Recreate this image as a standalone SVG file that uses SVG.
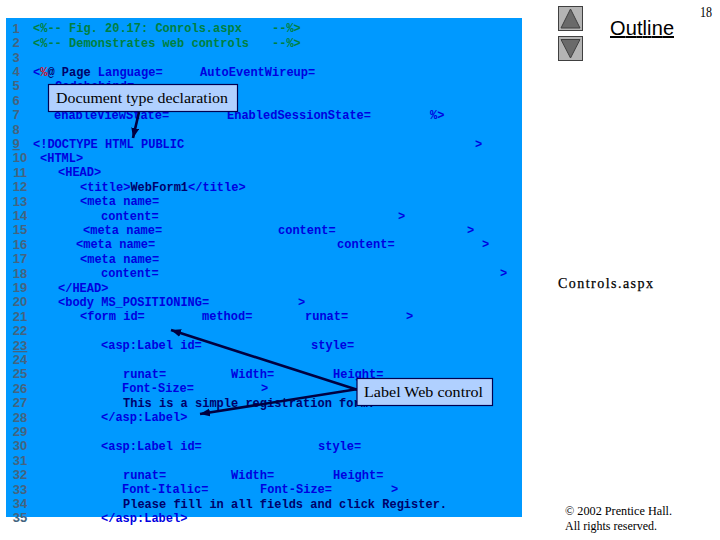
<svg xmlns="http://www.w3.org/2000/svg" width="720" height="540" viewBox="0 0 720 540">
<style>
text{white-space:pre}
.c{font:bold 12px "Liberation Mono",monospace;fill:#0000e0}
.g{fill:#008040}
.k{fill:#00006a}
.r{fill:#d01030}
.n{font:bold 13px "Liberation Sans",sans-serif;fill:#44647f;text-anchor:middle}
.s{font-family:"Liberation Serif",serif;fill:#000}
.box{fill:#b0d0ff;stroke:#000050;stroke-width:1.2}
.a{stroke:#000040;stroke-width:2.600;fill:none}
.b{fill:#b4b4b4;stroke:#404040;stroke-width:1}
.t{fill:#6a6a6a;stroke:#404040;stroke-width:1}
</style>
<defs><marker id="h" markerUnits="userSpaceOnUse" markerWidth="12" markerHeight="10" refX="10" refY="4" orient="auto"><path d="M0 0L10 4L0 8Z" fill="#000040"/></marker></defs>
<rect x="6" y="18" width="516" height="499" fill="#0099ff"/>
<g id="line-numbers">
<text class="n" x="16" y="33">1</text><text class="n" x="16" y="47">2</text><text class="n" x="16" y="62">3</text><text class="n" x="16" y="76">4</text><text class="n" x="16" y="90">5</text><text class="n" x="16" y="105">6</text><text class="n" x="16" y="119">7</text><text class="n" x="16" y="134">8</text><text class="n" x="16" y="148" text-decoration="underline">9</text><text class="n" x="20" y="162">10</text><text class="n" x="20" y="177">11</text><text class="n" x="20" y="191">12</text><text class="n" x="20" y="206">13</text><text class="n" x="20" y="220">14</text><text class="n" x="20" y="234">15</text><text class="n" x="20" y="249">16</text><text class="n" x="20" y="263">17</text><text class="n" x="20" y="278">18</text><text class="n" x="20" y="292">19</text><text class="n" x="20" y="306">20</text><text class="n" x="20" y="321">21</text><text class="n" x="20" y="335">22</text><text class="n" x="20" y="350" text-decoration="underline">23</text><text class="n" x="20" y="364">24</text><text class="n" x="20" y="378">25</text><text class="n" x="20" y="393">26</text><text class="n" x="20" y="407">27</text><text class="n" x="20" y="422">28</text><text class="n" x="20" y="436">29</text><text class="n" x="20" y="450">30</text><text class="n" x="20" y="465">31</text><text class="n" x="20" y="479">32</text><text class="n" x="20" y="494">33</text><text class="n" x="20" y="508">34</text><text class="n" x="20" y="522">35</text>
</g>
<g id="code">
<text class="c g" x="33" y="32">&lt;%-- Fig. 20.17: Conrols.aspx</text><text class="c g" x="272" y="32">--%&gt;</text>
<text class="c g" x="33" y="47">&lt;%-- Demonstrates web controls</text><text class="c g" x="272" y="47">--%&gt;</text>
<text class="c" x="33" y="76">&lt;<tspan class="r">%</tspan><tspan fill="#00006a">@ Page</tspan> Language=</text><text class="c" x="200" y="76">AutoEventWireup=</text>
<text class="c" x="55" y="90">Codebehind=</text>
<text class="c" x="54" y="119">enableViewState=</text><text class="c" x="227" y="119">EnabledSessionState=</text><text class="c" x="430" y="119">%&gt;</text>
<text class="c" x="33" y="148">&lt;!DOCTYPE HTML PUBLIC</text><text class="c" x="475" y="148">&gt;</text>
<text class="c" x="40" y="162">&lt;HTML&gt;</text>
<text class="c" x="58" y="176">&lt;HEAD&gt;</text>
<text class="c" x="80" y="191">&lt;title&gt;<tspan class="k">WebForm1</tspan>&lt;/title&gt;</text>
<text class="c" x="80" y="205">&lt;meta name=</text>
<text class="c" x="101" y="220">content=</text><text class="c" x="398" y="220">&gt;</text>
<text class="c" x="83" y="234">&lt;meta name=</text><text class="c" x="278" y="234">content=</text><text class="c" x="467" y="234">&gt;</text>
<text class="c" x="76" y="248">&lt;meta name=</text><text class="c" x="337" y="248">content=</text><text class="c" x="482" y="248">&gt;</text>
<text class="c" x="80" y="263">&lt;meta name=</text>
<text class="c" x="101" y="277">content=</text><text class="c" x="500" y="277">&gt;</text>
<text class="c" x="58" y="292">&lt;/HEAD&gt;</text>
<text class="c" x="58" y="306">&lt;body MS_POSITIONING=</text><text class="c" x="298" y="306">&gt;</text>
<text class="c" x="80" y="320">&lt;form id=</text><text class="c" x="202" y="320">method=</text><text class="c" x="305" y="320">runat=</text><text class="c" x="406" y="320">&gt;</text>
<text class="c" x="101" y="349">&lt;asp:Label id=</text><text class="c" x="311" y="349">style=</text>
<text class="c" x="123" y="378">runat=</text><text class="c" x="231" y="378">Width=</text><text class="c" x="333" y="378">Height=</text>
<text class="c" x="122" y="392">Font-Size=</text><text class="c" x="261" y="392">&gt;</text>
<text class="c k" x="123" y="407">This is a simple registration form.</text>
<text class="c" x="101" y="421">&lt;/asp:Label&gt;</text>
<text class="c" x="101" y="450">&lt;asp:Label id=</text><text class="c" x="318" y="450">style=</text>
<text class="c" x="123" y="479">runat=</text><text class="c" x="231" y="479">Width=</text><text class="c" x="333" y="479">Height=</text>
<text class="c" x="122" y="493">Font-Italic=</text><text class="c" x="260" y="493">Font-Size=</text><text class="c" x="391" y="493">&gt;</text>
<text class="c k" x="123" y="508">Please fill in all fields and click Register.</text>
<text class="c" x="101" y="522">&lt;/asp:Label&gt;</text>
</g>
<g id="connectors">
<path class="a" d="M139 112L133 138" marker-end="url(#h)"/>
<path class="a" d="M358 390L171 330" marker-end="url(#h)"/>
<path class="a" d="M358 389L200 414" marker-end="url(#h)"/>
</g>
<g id="doc-type-callout">
<rect class="box" x="48.500" y="84.500" width="189" height="27"/>
<text class="s" x="56" y="103" font-size="15" textLength="172" lengthAdjust="spacingAndGlyphs">Document type declaration</text>
</g>
<g id="label-callout">
<rect class="box" x="357" y="378.500" width="135.500" height="27"/>
<text class="s" x="364" y="397" font-size="15" textLength="119" lengthAdjust="spacingAndGlyphs">Label Web control</text>
</g>
<g id="nav-up"><rect class="b" x="558.500" y="6.500" width="24" height="24"/><path class="t" d="M570.500 9L580 28H561Z"/></g>
<g id="nav-down"><rect class="b" x="558.500" y="36.500" width="24" height="24"/><path class="t" d="M561 39.500H580L570.500 58Z"/></g>
<g id="outline"><text x="610" y="35" font-family="Liberation Sans,sans-serif" font-size="20" text-decoration="underline" textLength="64" fill="#000">Outline</text></g>
<g id="page-number"><text class="s" x="700" y="17" font-size="14" textLength="12" lengthAdjust="spacingAndGlyphs">18</text></g>
<g id="file-name"><text class="s" x="558" y="288" font-size="14" textLength="95" stroke="#000" stroke-width=".25">Controls.aspx</text></g>
<g id="copyright">
<text class="s" x="565" y="515" font-size="12.500" textLength="107" lengthAdjust="spacingAndGlyphs">© 2002 Prentice Hall.</text>
<text class="s" x="565" y="530" font-size="12.500" textLength="92" lengthAdjust="spacingAndGlyphs">All rights reserved.</text>
</g>
</svg>
